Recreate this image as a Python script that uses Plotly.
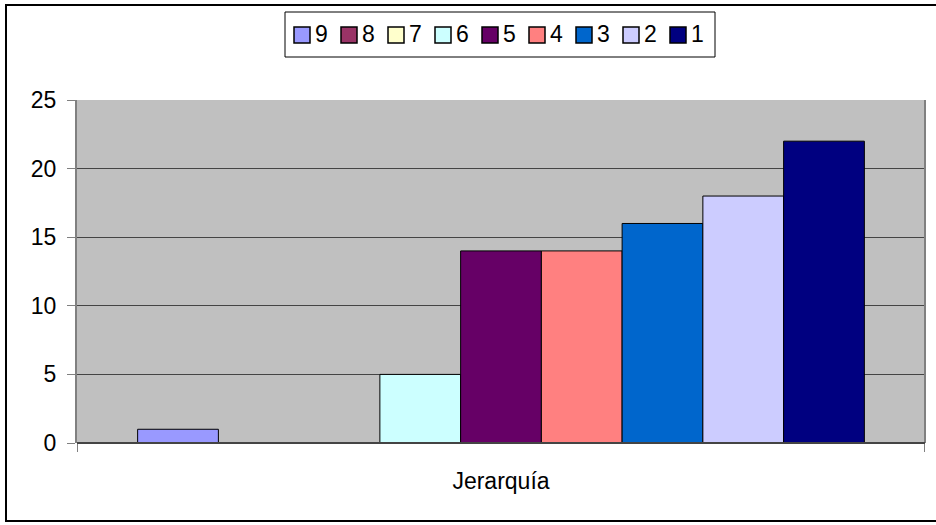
import plotly.graph_objects as go

category = ["Jerarquía"]
series_names = ["9", "8", "7", "6", "5", "4", "3", "2", "1"]
series_values = [1, 0, 0, 5, 14, 14, 16, 18, 22]
series_colors = ["#9999FF", "#993366", "#FFFFCC", "#CCFFFF", "#660066",
                 "#FF8080", "#0066CC", "#CCCCFF", "#000080"]
y_ticks = [0, 5, 10, 15, 20, 25]

fig = go.Figure()
for name, val, col in zip(series_names, series_values, series_colors):
    fig.add_trace(go.Bar(
        x=category, y=[val], name=name, showlegend=False,
        marker=dict(color=col, line=dict(color="#000000", width=1)),
    ))

W, H = 936, 525
L, R, T, B = 77, 11, 100, 82
pw, ph = W - L - R, H - T - B

def px2x(px):
    return (px - L) / pw

def px2y(py):
    return (H - B - py) / ph

font_family = "Liberation Sans, Arial, sans-serif"
FS = 23

fig.update_layout(
    width=W, height=H,
    margin=dict(l=L, r=R, t=T, b=B, pad=0),
    paper_bgcolor="white",
    plot_bgcolor="#C0C0C0",
    barmode="group",
    bargap=0.143,
    bargroupgap=0,
    font=dict(family=font_family, size=FS, color="black"),
    showlegend=False,
    xaxis=dict(
        type="category",
        showgrid=False,
        showline=False,
        ticks="", ticklabelstandoff=22,
        tickfont=dict(size=FS),
        range=[-0.5, 0.5],
    ),
    yaxis=dict(
        range=[0, 25],
        tickvals=y_ticks,
        ticks="outside", ticklen=8, tickcolor="#808080", tickwidth=1,
        showgrid=True, gridcolor="#444444", gridwidth=1,
        showline=True, linecolor="#808080", linewidth=2,
        zeroline=False,
        tickfont=dict(size=FS),
        ticklabelstandoff=6,
    ),
)

shapes = []
annotations = []
# category axis boundary tick marks
for xb in (-0.5, 0.5):
    shapes.append(dict(type="line", xref="x", yref="paper",
                       x0=xb, x1=xb, y0=0, y1=px2y(452),
                       line=dict(color="#808080", width=2)))
# right plot border
shapes.append(dict(type="line", xref="paper", yref="paper",
                   x0=1, x1=1, y0=0, y1=1,
                   line=dict(color="#808080", width=2)))
# x axis baseline
shapes.append(dict(type="line", xref="paper", yref="paper",
                   x0=0, x1=1, y0=0, y1=0,
                   line=dict(color="#444444", width=2)))
# outer chart border
shapes.append(dict(type="rect", xref="paper", yref="paper",
                   x0=px2x(6), x1=px2x(950), y0=px2y(521), y1=px2y(5),
                   line=dict(color="black", width=2),
                   fillcolor="rgba(0,0,0,0)", layer="above"))

# legend (box, swatches, labels)
leg_x0, leg_x1, leg_y0, leg_y1 = 285, 715, 12, 57
shapes.append(dict(type="rect", xref="paper", yref="paper",
                   x0=px2x(leg_x0), x1=px2x(leg_x1), y0=px2y(leg_y1), y1=px2y(leg_y0),
                   line=dict(color="black", width=1), fillcolor="white"))
sw_start, pitch, sw = 294, 47, 16
sw_top = 27
for i, (name, col) in enumerate(zip(series_names, series_colors)):
    sx = sw_start + pitch * i
    shapes.append(dict(type="rect", xref="paper", yref="paper",
                       x0=px2x(sx), x1=px2x(sx + sw),
                       y0=px2y(sw_top + sw), y1=px2y(sw_top),
                       line=dict(color="black", width=1.5), fillcolor=col))
    annotations.append(dict(xref="paper", yref="paper",
                            x=px2x(sx + sw + 3), y=px2y(sw_top + sw / 2 - 1),
                            xanchor="left", yanchor="middle",
                            text=name, showarrow=False,
                            font=dict(size=FS, family=font_family, color="black")))

fig.update_layout(shapes=shapes, annotations=annotations)

fig.write_html("out.html", config={"displayModeBar": False},
               post_script="document.body.style.margin='0';document.body.style.overflow='hidden';")
